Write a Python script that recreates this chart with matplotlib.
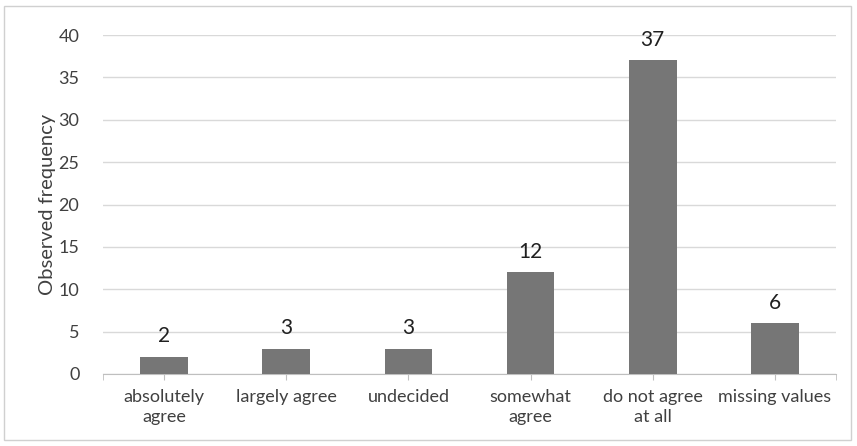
import matplotlib
matplotlib.use("Agg")
import matplotlib.pyplot as plt
from matplotlib.patches import Rectangle
import numpy as np

categories = ["absolutely\nagree", "largely agree", "undecided", "somewhat\nagree", "do not agree\nat all", "missing values"]
values = [2, 3, 3, 12, 37, 6]
yticks = [0, 5, 10, 15, 20, 25, 30, 35, 40]

plt.rcParams['font.family'] = ['Lato', 'DejaVu Sans']
fig = plt.figure(figsize=(8.57, 4.46), dpi=100)
fig.patches.append(Rectangle((4/857, 6/446), 847/857, 434/446, transform=fig.transFigure,
                             fill=False, edgecolor='#d0d0d0', linewidth=1))
ax = fig.add_axes([103/857, 72/446, 733/857, 339/446])
x = np.arange(len(categories))
bars = ax.bar(x, values, width=0.39, color='#767676', zorder=3)
ax.set_xlim(-0.5, len(categories) - 0.5)
ax.set_ylim(0, 40)
ax.set_yticks(yticks)
ax.yaxis.grid(True, color='#d9d9d9', linewidth=1, zorder=0)
for s in ['top', 'right', 'left']:
    ax.spines[s].set_visible(False)
ax.spines['bottom'].set_color('#bfbfbf')
ax.tick_params(axis='y', length=0, labelsize=13, labelcolor='#404040', pad=17)
ax.set_xticks(x)
ax.set_xticklabels(categories, fontsize=13, color='#404040', linespacing=1.25)
ax.tick_params(axis='x', length=4, color='#bfbfbf', pad=7)
ax.set_xticks([-0.5, len(categories) - 0.5], minor=True)
ax.tick_params(axis='x', which='minor', length=4, color='#bfbfbf')
ax.set_ylabel("Observed frequency", fontsize=14.5, color='#404040', labelpad=2)
for xi, v in zip(x, values):
    ax.annotate(str(v), (xi, v), xytext=(0, 10.5), textcoords='offset points',
                ha='center', va='baseline', fontsize=15, color='#202020')
fig.savefig("out.png", dpi=100)
